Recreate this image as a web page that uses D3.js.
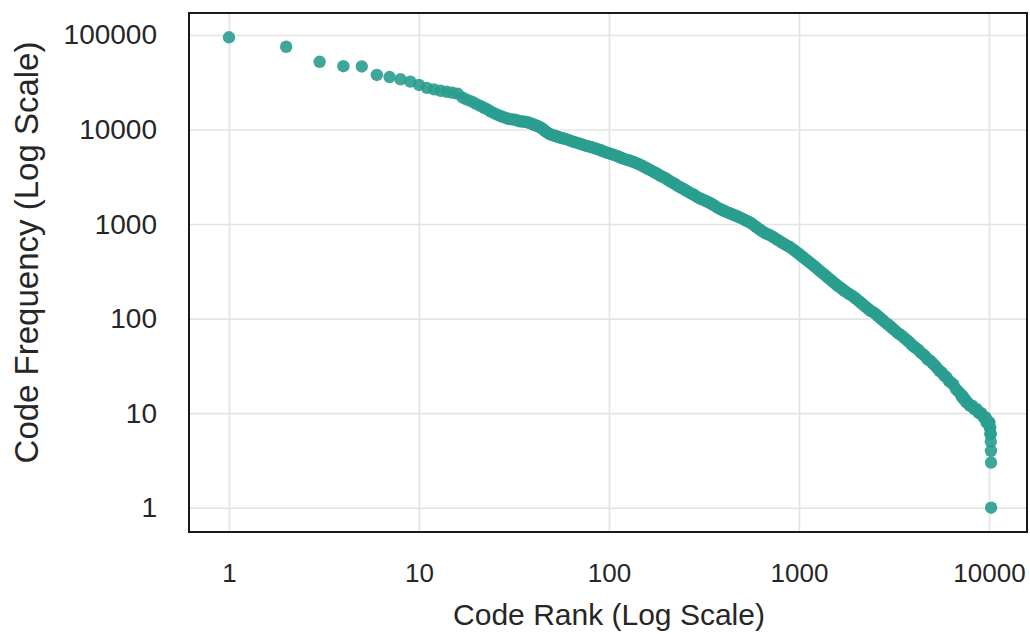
<!DOCTYPE html>
<html>
<head>
<meta charset="utf-8">
<script src="https://cdn.jsdelivr.net/npm/d3@7"></script>
<style>
  body { margin: 0; background: #fff; }
  text { font-family: "Liberation Sans", Arial, sans-serif; fill: #262626; }
</style>
</head>
<body>
<div id="chart"></div>
<script>
var margin = {top: 13, right: 3, bottom: 102, left: 189},
    width = 1030 - margin.left - margin.right,
    height = 634 - margin.top - margin.bottom;

// tick labels
var xTicks = [1, 10, 100, 1000, 10000];
var yTicks = [1, 10, 100, 1000, 10000, 100000];

// code ranks and their frequencies
var ranks = [1, 2, 3, 4, 5, 6, 7, 8, 9, 10,
  11, 12, 13, 14, 15, 16, 17, 18, 19, 20,
  21, 22, 23, 24, 25, 26, 27, 28, 29, 30,
  31, 32, 33, 34, 35, 36, 37, 38, 39, 40,
  41, 42, 43, 44, 45, 46, 47, 48, 49, 50,
  51, 52, 53, 54, 55, 56, 57, 58, 60, 62,
  64, 66, 68, 70, 72, 74, 76, 78, 80, 82,
  85, 88, 90, 92, 95, 98, 100, 103, 106, 109,
  112, 115, 118, 121, 125, 128, 132, 136, 140, 144,
  148, 152, 157, 161, 166, 171, 176, 181, 187, 192,
  198, 204, 210, 216, 222, 228, 235, 242, 249, 256,
  264, 272, 280, 288, 297, 306, 315, 324, 334, 344,
  354, 364, 375, 386, 397, 408, 420, 432, 445, 458,
  472, 486, 500, 515, 530, 546, 562, 578, 595, 612,
  630, 649, 668, 688, 708, 729, 750, 772, 795, 818,
  842, 867, 892, 918, 945, 972, 1000, 1030, 1060, 1090,
  1120, 1155, 1190, 1225, 1260, 1297, 1335, 1375, 1415, 1457,
  1500, 1545, 1590, 1637, 1685, 1735, 1785, 1837, 1890, 1945,
  2000, 2060, 2120, 2182, 2245, 2312, 2380, 2450, 2520, 2595,
  2670, 2750, 2830, 2915, 3000, 3085, 3175, 3270, 3365, 3465,
  3565, 3670, 3775, 3885, 4000, 4115, 4235, 4360, 4485, 4615,
  4750, 4890, 5030, 5180, 5330, 5485, 5640, 5800, 5970, 6145,
  6320, 6505, 6690, 6885, 7080, 7180, 7285, 7380, 7490, 7600,
  7700, 7920, 8000, 8150, 8380, 8500, 8620, 8860, 9000, 9110,
  9370, 9500, 9600, 9700, 9800, 9950, 10050, 10100, 10150, 10180,
  10200, 10220, 10240, 10250, 10260];

var freqs = [94600, 75100, 52100, 46800, 46500, 37800, 35900, 34000, 32100, 29600,
  27600, 26600, 25700, 25100, 24500, 23900, 21700, 20600, 19700, 18700,
  17800, 17000, 16200, 15400, 14800, 14300, 13800, 13500, 13100, 12900,
  12800, 12700, 12450, 12200, 12150, 12100, 11950, 11800, 11550, 11300,
  11100, 10900, 10650, 10400, 10050, 9700, 9400, 9100, 8950, 8790,
  8680, 8580, 8470, 8370, 8270, 8170, 8100, 8020, 7870, 7680,
  7500, 7360, 7230, 7100, 6970, 6840, 6720, 6640, 6560, 6450,
  6300, 6160, 6060, 5960, 5810, 5680, 5600, 5500, 5400, 5290,
  5180, 5060, 4950, 4870, 4780, 4700, 4610, 4500, 4390, 4290,
  4180, 4060, 3930, 3810, 3700, 3590, 3480, 3360, 3240, 3150,
  3060, 2940, 2830, 2740, 2660, 2560, 2470, 2400, 2330, 2250,
  2170, 2100, 2040, 1960, 1890, 1840, 1800, 1750, 1700, 1650,
  1600, 1540, 1480, 1440, 1400, 1365, 1330, 1300, 1270, 1240,
  1210, 1180, 1150, 1115, 1080, 1050, 1020, 975, 934, 895,
  857, 825, 797, 778, 759, 732, 706, 681, 656, 633,
  610, 592, 574, 550, 527, 505, 484, 462, 440, 421,
  403, 384, 366, 349, 332, 316, 301, 287, 273, 260,
  248, 236, 224, 215, 206, 197, 189, 182, 176, 169,
  162, 154, 147, 140, 133, 127, 121, 117, 113, 107,
  102, 97, 92, 88, 84, 80, 76, 72, 69, 66,
  63, 60, 57, 54, 51, 49, 47, 44, 42, 40,
  37, 36, 34, 32, 30, 28, 27, 25, 24, 22,
  21, 20, 18, 17, 16, 15, 15, 14, 14, 13,
  13, 12, 12, 12, 11, 11, 11, 10, 10, 10,
  9, 9, 9, 8, 8, 8, 8, 7, 7, 6,
  6, 5, 4, 3, 1];

var chart = d3.select("#chart")
              .append("svg")
                .attr("width", width + margin.left + margin.right)
                .attr("height", height + margin.top + margin.bottom)
              .append("g")
                .attr("transform", "translate(" + margin.left + "," + margin.top + ")");

// scales
var xScale = d3.scaleLog()
                .domain([0.616, 15850])
                .range([0, width]);

var yScale = d3.scaleLog()
                .domain([0.553, 170900])
                .range([height, 0]);

// grid
chart.append("g")
      .attr("class", "grid")
      .call(d3.axisBottom(xScale).tickValues(xTicks).tickSize(height).tickFormat(""))
      .call(function(g) { g.select(".domain").remove(); });

chart.append("g")
      .attr("class", "grid")
      .call(d3.axisLeft(yScale).tickValues(yTicks).tickSize(-width).tickFormat(""))
      .call(function(g) { g.select(".domain").remove(); });

chart.selectAll(".grid line")
      .attr("stroke", "#e3e3e3")
      .attr("stroke-width", 1.6);

// axes (labels only)
var xAxis = chart.append("g")
      .attr("transform", "translate(0," + height + ")")
      .call(d3.axisBottom(xScale).tickValues(xTicks).tickSize(0).tickPadding(32).tickFormat(d3.format("d")));

var yAxis = chart.append("g")
      .call(d3.axisLeft(yScale).tickValues(yTicks).tickSize(0).tickPadding(32).tickFormat(d3.format("d")));

[xAxis, yAxis].forEach(function(ax) {
  ax.select(".domain").remove();
  ax.selectAll("text")
    .attr("fill", "#262626")
    .style("font-family", "'Liberation Sans', Arial, sans-serif");
});
xAxis.selectAll("text").style("font-size", "26px");
yAxis.selectAll("text").style("font-size", "28px");

// points
chart.selectAll(".dot")
    .data(ranks)
  .enter().append("circle")
    .attr("class", "dot")
    .attr("cx", function(d) { return xScale(d); })
    .attr("cy", function(d, i) { return yScale(freqs[i]); })
    .attr("r", 6.2)
    .attr("fill", "#2a9d8f")
    .attr("fill-opacity", 0.9);

// frame
chart.append("rect")
      .attr("width", width)
      .attr("height", height)
      .attr("fill", "none")
      .attr("stroke", "#1a1a1a")
      .attr("stroke-width", 2);

// axis titles
chart.append("text")
      .attr("x", width / 2 + 1)
      .attr("y", height + 93)
      .attr("text-anchor", "middle")
      .style("font-size", "30px")
      .text("Code Rank (Log Scale)");

chart.append("text")
      .attr("transform", "translate(" + (-margin.left + 38) + "," + (height / 2 - 20) + ") rotate(-90)")
      .attr("text-anchor", "middle")
      .style("font-size", "33px")
      .text("Code Frequency (Log Scale)");
</script>
</body>
</html>
